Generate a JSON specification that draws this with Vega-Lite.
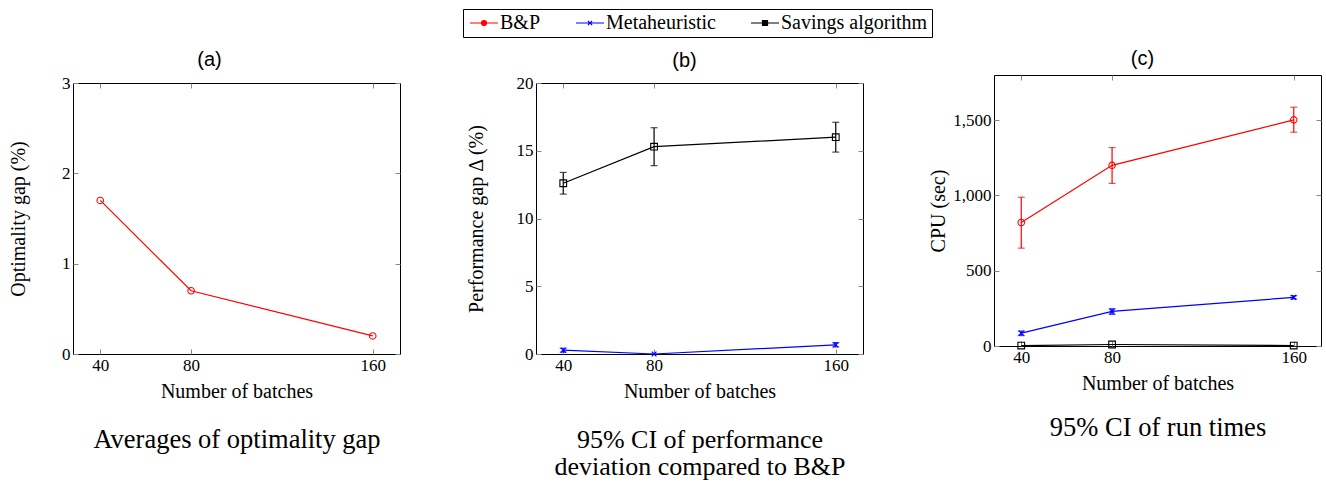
{
  "$schema": "https://vega.github.io/schema/vega-lite/v6.json",
  "padding": {"left": 8, "top": 8, "right": 5, "bottom": 0},
  "background": "white",
  "datasets": {
    "gap": [
      {"batches": 40, "series": "B&P", "value": 1.7},
      {"batches": 80, "series": "B&P", "value": 0.7},
      {"batches": 160, "series": "B&P", "value": 0.2}
    ],
    "perf": [
      {"batches": 40, "series": "Metaheuristic", "value": 0.28, "lo": 0.13, "hi": 0.43},
      {"batches": 80, "series": "Metaheuristic", "value": 0.0, "lo": null, "hi": null},
      {"batches": 160, "series": "Metaheuristic", "value": 0.68, "lo": 0.52, "hi": 0.84},
      {"batches": 40, "series": "Savings algorithm", "value": 12.6, "lo": 11.8, "hi": 13.4},
      {"batches": 80, "series": "Savings algorithm", "value": 15.3, "lo": 13.9, "hi": 16.7},
      {"batches": 160, "series": "Savings algorithm", "value": 16.0, "lo": 14.9, "hi": 17.1}
    ],
    "cpu": [
      {"batches": 40, "series": "B&P", "value": 820, "lo": 650, "hi": 988},
      {"batches": 80, "series": "B&P", "value": 1200, "lo": 1080, "hi": 1318},
      {"batches": 160, "series": "B&P", "value": 1502, "lo": 1420, "hi": 1586},
      {"batches": 40, "series": "Metaheuristic", "value": 85, "lo": 69, "hi": 100},
      {"batches": 80, "series": "Metaheuristic", "value": 230, "lo": 210, "hi": 248},
      {"batches": 160, "series": "Metaheuristic", "value": 323, "lo": 312, "hi": 334},
      {"batches": 40, "series": "Savings algorithm", "value": 3, "lo": null, "hi": null},
      {"batches": 80, "series": "Savings algorithm", "value": 10, "lo": null, "hi": null},
      {"batches": 160, "series": "Savings algorithm", "value": 3, "lo": null, "hi": null}
    ],
    "none": []
  },
  "config": {
    "font": "Liberation Serif",
    "view": {"stroke": "black", "strokeWidth": 1},
    "axis": {
      "domain": false, "grid": false, "tickSize": -5, "tickColor": "#888", "tickWidth": 1,
      "labelFont": "Liberation Serif", "labelFontSize": 17, "labelColor": "black", "labelPadding": 8,
      "titleFont": "Liberation Serif", "titleFontSize": 20, "titleFontWeight": "normal", "titleColor": "black",
      "titlePadding": 6, "labelFlush": false
    },
    "title": {"font": "Liberation Sans", "fontSize": 20, "fontWeight": "normal", "color": "black"},
    "concat": {"spacing": 64}
  },
  "hconcat": [
    {
      "spacing": -3,
      "vconcat": [
        {
          "width": 327, "height": 1,
          "view": {"stroke": null},
          "data": {"name": "none"},
          "title": {"text": "(a)", "anchor": "middle", "frame": "group", "offset": 1, "dx": -27, "dy": -4},
          "mark": "point"
        },
        {
          "width": 327, "height": 271,
          "data": {"name": "gap"},
          "layer": [
            {
              "mark": {"type": "line", "strokeWidth": 1.2},
              "encoding": {
                "x": {"field": "batches", "type": "quantitative", "scale": {"domain": [28, 172], "nice": false}, "axis": {"orient": "bottom", "values": [40, 80, 160], "title": "Number of batches", "titlePadding": 8}},
                "y": {"field": "value", "type": "quantitative", "scale": {"domain": [0, 3], "nice": false}, "axis": {"orient": "left", "values": [0, 1, 2, 3], "title": "Optimality gap (%)", "titlePadding": 33}},
                "color": {"field": "series", "type": "nominal", "scale": {"domain": ["B&P", "Metaheuristic", "Savings algorithm"], "range": ["#ff0000", "#0000ff", "#000000"]}}
              }
            },
            {
              "mark": {"type": "point", "shape": "circle", "filled": false, "size": 42, "strokeWidth": 1.1, "opacity": 1},
              "encoding": {
                "x": {"field": "batches", "type": "quantitative", "axis": {"orient": "top", "values": [40, 80, 160], "labels": false, "title": null}},
                "y": {"field": "value", "type": "quantitative", "axis": {"orient": "right", "values": [0, 1, 2, 3], "labels": false, "title": null}},
                "color": {"field": "series", "type": "nominal"}
              }
            },
            {
              "transform": [{"filter": "false"}],
              "mark": {"type": "rule"},
              "encoding": {
                "x": {"field": "batches", "type": "quantitative", "axis": {"orient": "bottom", "labels": false, "ticks": false, "domain": false, "title": "Averages of optimality gap", "titleFontSize": 26.5, "titlePadding": 72}}
              }
            }
          ],
          "resolve": {"axis": {"x": "independent", "y": "independent"}}
        }
      ]
    },
    {
      "spacing": -3,
      "vconcat": [
        {
          "width": 327, "height": 1,
          "view": {"stroke": null},
          "data": {"name": "none"},
          "title": {"text": "(b)", "anchor": "middle", "frame": "group", "offset": 1, "dx": -15, "dy": -3},
          "mark": "point"
        },
        {
          "width": 327, "height": 271,
          "data": {"name": "perf"},
          "layer": [
            {
              "mark": {"type": "line", "strokeWidth": 1.2},
              "encoding": {
                "x": {"field": "batches", "type": "quantitative", "scale": {"domain": [28, 172], "nice": false}, "axis": {"orient": "bottom", "values": [40, 80, 160], "title": "Number of batches", "titlePadding": 8}},
                "y": {"field": "value", "type": "quantitative", "scale": {"domain": [0, 20], "nice": false}, "axis": {"orient": "left", "values": [0, 5, 10, 15, 20], "title": "Performance gap Δ (%)", "titlePadding": 30}},
                "color": {"field": "series", "type": "nominal", "scale": {"domain": ["B&P", "Metaheuristic", "Savings algorithm"], "range": ["#ff0000", "#0000ff", "#000000"]}}
              }
            },
            {
              "transform": [{"filter": "isValid(datum.lo)"}],
              "mark": {"type": "rule", "strokeWidth": 1.2},
              "encoding": {
                "x": {"field": "batches", "type": "quantitative", "axis": {"orient": "bottom", "labels": false, "ticks": false, "domain": false, "title": ["95% CI of performance", "deviation compared to B&P"], "titleFontSize": 26, "titleLineHeight": 27, "titlePadding": 72}},
                "y": {"field": "lo", "type": "quantitative", "axis": null},
                "y2": {"field": "hi"},
                "color": {"field": "series", "type": "nominal"}
              }
            },
            {
              "transform": [{"filter": "isValid(datum.lo)"}],
              "mark": {"type": "tick", "orient": "horizontal", "size": 7, "thickness": 1.2},
              "encoding": {
                "x": {"field": "batches", "type": "quantitative", "axis": null},
                "y": {"field": "lo", "type": "quantitative", "axis": null},
                "color": {"field": "series", "type": "nominal"}
              }
            },
            {
              "transform": [{"filter": "isValid(datum.lo)"}],
              "mark": {"type": "tick", "orient": "horizontal", "size": 7, "thickness": 1.2},
              "encoding": {
                "x": {"field": "batches", "type": "quantitative", "axis": null},
                "y": {"field": "hi", "type": "quantitative", "axis": null},
                "color": {"field": "series", "type": "nominal"}
              }
            },
            {
              "transform": [{"filter": "datum.series === 'Savings algorithm'"}],
              "mark": {"type": "point", "shape": "square", "filled": false, "size": 45, "strokeWidth": 1.1, "opacity": 1},
              "encoding": {
                "x": {"field": "batches", "type": "quantitative", "axis": {"orient": "top", "values": [40, 80, 160], "labels": false, "title": null}},
                "y": {"field": "value", "type": "quantitative", "axis": {"orient": "right", "values": [0, 5, 10, 15, 20], "labels": false, "title": null}},
                "color": {"field": "series", "type": "nominal"}
              }
            },
            {
              "transform": [{"filter": "datum.series === 'Metaheuristic'"}],
              "mark": {"type": "point", "shape": "M-0.7,-0.7L0.7,0.7M-0.7,0.7L0.7,-0.7", "filled": false, "size": 45, "strokeWidth": 1.3, "opacity": 1},
              "encoding": {
                "x": {"field": "batches", "type": "quantitative", "axis": null},
                "y": {"field": "value", "type": "quantitative", "axis": null},
                "color": {"field": "series", "type": "nominal"}
              }
            },
            {
              "transform": [{"filter": "false"}],
              "mark": {"type": "point", "filled": false, "strokeWidth": 1.2, "opacity": 1},
              "encoding": {
                "shape": {
                  "field": "series", "type": "nominal",
                  "scale": {"domain": ["B&P", "Metaheuristic", "Savings algorithm"], "range": ["M-1,0H0.64M1.36,0H3M0.64,0A0.36,0.36 0 1,1 1.36,0A0.36,0.36 0 1,1 0.64,0", "M-1,0H3M0.7,-0.3L1.3,0.3M0.7,0.3L1.3,-0.3", "M-1,0H0.64M1.36,0H3M0.64,-0.36H1.36V0.36H0.64Z"]},
                  "legend": {
                    "orient": "none", "legendX": 390, "legendY": -66, "direction": "horizontal", "title": null,
                    "strokeColor": "black", "fillColor": "white", "padding": 4, "cornerRadius": 0,
                    "labelFont": "Liberation Serif", "labelFontSize": 20, "labelColor": "black", "labelLimit": 300,
                    "labelOffset": 13, "columnPadding": 32, "symbolSize": 196, "symbolStrokeWidth": 1.2,
                    "encode": {"symbols": {"fill": {"value": "transparent"}}}
                  }
                },
                "color": {
                  "field": "series", "type": "nominal",
                  "legend": {
                    "orient": "none", "legendX": 390, "legendY": -66, "direction": "horizontal", "title": null,
                    "strokeColor": "black", "fillColor": "white", "padding": 4, "cornerRadius": 0,
                    "labelFont": "Liberation Serif", "labelFontSize": 20, "labelColor": "black", "labelLimit": 300,
                    "labelOffset": 13, "columnPadding": 32, "symbolSize": 196, "symbolStrokeWidth": 1.2,
                    "encode": {"symbols": {"fill": {"value": "transparent"}}}
                  }
                }
              }
            }
          ],
          "resolve": {"axis": {"x": "independent", "y": "independent"}}
        }
      ]
    },
    {
      "width": 327, "height": 271,
      "data": {"name": "cpu"},
      "title": {"text": "(c)", "anchor": "middle", "frame": "group", "offset": 1, "dx": -15, "dy": -5},
      "layer": [
        {
          "mark": {"type": "line", "strokeWidth": 1.2},
          "encoding": {
            "x": {"field": "batches", "type": "quantitative", "scale": {"domain": [28, 172], "nice": false}, "axis": {"orient": "bottom", "values": [40, 80, 160], "title": "Number of batches", "titlePadding": 8}},
            "y": {"field": "value", "type": "quantitative", "scale": {"domain": [0, 1800], "nice": false}, "axis": {"orient": "left", "values": [0, 500, 1000, 1500], "format": ",d", "title": "CPU (sec)", "titlePadding": 4}},
            "color": {"field": "series", "type": "nominal", "scale": {"domain": ["B&P", "Metaheuristic", "Savings algorithm"], "range": ["#ff0000", "#0000ff", "#000000"]}}
          }
        },
        {
          "transform": [{"filter": "isValid(datum.lo)"}],
          "mark": {"type": "rule", "strokeWidth": 1.2},
          "encoding": {
            "x": {"field": "batches", "type": "quantitative", "axis": {"orient": "bottom", "labels": false, "ticks": false, "domain": false, "title": "95% CI of run times", "titleFontSize": 26.5, "titlePadding": 68}},
            "y": {"field": "lo", "type": "quantitative", "axis": null},
            "y2": {"field": "hi"},
            "color": {"field": "series", "type": "nominal"}
          }
        },
        {
          "transform": [{"filter": "isValid(datum.lo)"}],
          "mark": {"type": "tick", "orient": "horizontal", "size": 7, "thickness": 1.2},
          "encoding": {
            "x": {"field": "batches", "type": "quantitative", "axis": null},
            "y": {"field": "lo", "type": "quantitative", "axis": null},
            "color": {"field": "series", "type": "nominal"}
          }
        },
        {
          "transform": [{"filter": "isValid(datum.lo)"}],
          "mark": {"type": "tick", "orient": "horizontal", "size": 7, "thickness": 1.2},
          "encoding": {
            "x": {"field": "batches", "type": "quantitative", "axis": null},
            "y": {"field": "hi", "type": "quantitative", "axis": null},
            "color": {"field": "series", "type": "nominal"}
          }
        },
        {
          "transform": [{"filter": "datum.series === 'B&P'"}],
          "mark": {"type": "point", "shape": "circle", "filled": false, "size": 42, "strokeWidth": 1.1, "opacity": 1},
          "encoding": {
            "x": {"field": "batches", "type": "quantitative", "axis": {"orient": "top", "values": [40, 80, 160], "labels": false, "title": null}},
            "y": {"field": "value", "type": "quantitative", "axis": {"orient": "right", "values": [0, 500, 1000, 1500], "labels": false, "title": null}},
            "color": {"field": "series", "type": "nominal"}
          }
        },
        {
          "transform": [{"filter": "datum.series === 'Savings algorithm'"}],
          "mark": {"type": "point", "shape": "square", "filled": false, "size": 45, "strokeWidth": 1.1, "opacity": 1},
          "encoding": {
            "x": {"field": "batches", "type": "quantitative", "axis": null},
            "y": {"field": "value", "type": "quantitative", "axis": null},
            "color": {"field": "series", "type": "nominal"}
          }
        },
        {
          "transform": [{"filter": "datum.series === 'Metaheuristic'"}],
          "mark": {"type": "point", "shape": "M-0.7,-0.7L0.7,0.7M-0.7,0.7L0.7,-0.7", "filled": false, "size": 45, "strokeWidth": 1.3, "opacity": 1},
          "encoding": {
            "x": {"field": "batches", "type": "quantitative", "axis": null},
            "y": {"field": "value", "type": "quantitative", "axis": null},
            "color": {"field": "series", "type": "nominal"}
          }
        }
      ],
      "resolve": {"axis": {"x": "independent", "y": "independent"}}
    }
  ]
}
